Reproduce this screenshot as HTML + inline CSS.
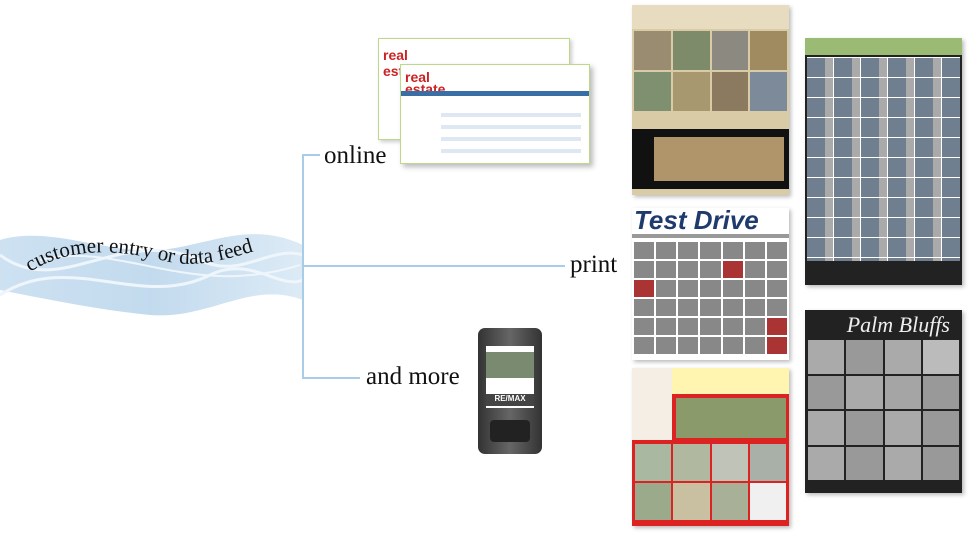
<!DOCTYPE html>
<html><head><meta charset="utf-8"><style>
body{margin:0;width:974px;height:538px;background:#fff;position:relative;overflow:hidden;font-family:"Liberation Serif",serif}
.a{position:absolute}
.t{position:absolute;font-size:25px;color:#111;line-height:1}
.grid{display:grid;gap:2px}
.grid div{background:#888}
</style></head><body>
<svg class="a" style="left:0;top:0" width="974" height="538">
<defs><linearGradient id="w" x1="0" x2="1"><stop offset="0" stop-color="#c4dcef"/><stop offset="0.5" stop-color="#b8d4eb"/><stop offset="1" stop-color="#d6e7f4"/></linearGradient></defs>
<path d="M0 240 C50 225 110 255 160 250 C210 245 250 220 303 245 L303 300 C250 280 210 320 150 315 C100 310 50 300 0 290Z" fill="url(#w)" opacity="0.85"/>
<path d="M0 255 C60 300 120 225 200 260 C240 280 270 245 303 255" stroke="#eef5fb" stroke-width="3" fill="none"/>
<path d="M0 295 C70 250 140 310 210 275 C250 255 280 290 303 280" stroke="#eef5fb" stroke-width="3" fill="none"/>
<path d="M40 260 C120 240 190 300 300 265" stroke="#eef5fb" stroke-width="2" fill="none"/>
<path id="cv" d="M30 272 C80 240 140 255 170 262 C210 270 250 250 295 240" fill="none"/>
<text font-family="Liberation Serif" font-size="21" fill="#111"><textPath href="#cv">customer entry or data feed</textPath></text>
<path d="M320 155 H303 V378 H360 M303 266 H565" stroke="#a9cde6" stroke-width="2" fill="none"/>
</svg>
<div class="t" style="left:324px;top:143px">online</div>
<div class="t" style="left:570px;top:252px">print</div>
<div class="t" style="left:366px;top:364px">and more</div>

<div class="a" style="left:378px;top:38px;width:190px;height:100px;background:#fff;border:1px solid #bcd98a;box-shadow:2px 2px 4px #ccc">
 <div style="margin:8px 0 0 4px;font:bold 14px 'Liberation Sans',sans-serif;color:#c22">real<br>estate</div></div>
<div class="a" style="left:400px;top:64px;width:188px;height:98px;background:#fff;border:1px solid #bcd98a;box-shadow:3px 3px 5px #bbb">
 <div style="margin:6px 0 0 4px;font:bold 14px/12px 'Liberation Sans',sans-serif;color:#c22">real<br>estate</div>
 <div style="position:absolute;left:0;top:26px;width:100%;height:5px;background:#3a6fa5"></div>
 <div style="position:absolute;left:40px;top:40px;width:140px;height:56px;background:repeating-linear-gradient(#fff 0 8px,#dde8f3 8px 12px)"></div>
</div>

<div class="a" style="left:478px;top:328px;width:64px;height:126px;background:linear-gradient(90deg,#333,#666,#333);border-radius:7px"></div>
<div class="a" style="left:486px;top:346px;width:48px;height:62px;background:#fff"><div style="height:26px;background:#7a8a70;margin-top:6px"></div><div style="height:12px;background:#444;margin-top:16px;color:#fff;font:bold 8px sans-serif;text-align:center">RE/MAX</div></div>
<div class="a" style="left:490px;top:420px;width:40px;height:22px;background:#222;border-radius:4px"></div>

<div class="a" style="left:632px;top:5px;width:157px;height:190px;background:#d9cba6;box-shadow:2px 2px 4px #bbb">
 <div style="height:24px;background:#e8dcc0"></div>
 <div class="grid" style="grid-template-columns:repeat(4,1fr);padding:2px;height:80px;"><div style="background:#9a8c70"></div><div style="background:#7d8b6a"></div><div style="background:#8c8a80"></div><div style="background:#a08a60"></div><div style="background:#7f9070"></div><div style="background:#a89870"></div><div style="background:#8c7a60"></div><div style="background:#7d8a9a"></div></div>
 <div style="position:absolute;left:0;top:124px;width:157px;height:60px;background:#111"><div style="margin:8px 0 0 22px;width:130px;height:44px;background:#b0956a"></div></div>
</div>
<div class="a" style="left:805px;top:38px;width:157px;height:247px;background:#222;box-shadow:2px 2px 4px #bbb">
 <div style="height:17px;background:#9bbb74"></div>
 <div style="margin:2px;height:204px;background:repeating-linear-gradient(#fff 0 1px,transparent 1px 20px),repeating-linear-gradient(90deg,#6f7f8f 0 18px,#aaa 18px 26px,#fff 26px 27px)"></div>
</div>
<div class="a" style="left:632px;top:208px;width:157px;height:152px;background:#fff;box-shadow:2px 2px 4px #bbb">
 <div style="font:italic 900 26px/24px 'Liberation Sans',sans-serif;color:#1f3b6e;padding-left:2px">Test Drive</div>
 <div style="height:4px;background:#999;margin:2px 0"></div>
 <div class="grid" style="grid-template-columns:repeat(7,1fr);height:112px;padding:2px"><div></div><div></div><div></div><div></div><div></div><div></div><div></div><div></div><div></div><div></div><div></div><div style="background:#a33"></div><div></div><div></div><div style="background:#a33"></div><div></div><div></div><div></div><div></div><div></div><div></div><div></div><div></div><div></div><div></div><div></div><div></div><div></div><div></div><div></div><div></div><div></div><div></div><div></div><div style="background:#a33"></div><div></div><div></div><div></div><div></div><div></div><div></div><div style="background:#a33"></div></div>
</div>
<div class="a" style="left:632px;top:368px;width:157px;height:158px;background:#d22;box-shadow:2px 2px 4px #bbb">
 <div style="position:absolute;left:0;top:0;width:40px;height:72px;background:#f4eee4"></div>
 <div style="position:absolute;left:40px;top:0;width:117px;height:26px;background:#fff4b0"></div>
 <div style="position:absolute;left:44px;top:30px;width:110px;height:40px;background:#8a9a6a"></div>
 <div class="grid" style="position:absolute;left:3px;top:76px;width:151px;height:76px;grid-template-columns:repeat(4,1fr)"><div style="background:#a9b8a0"></div><div style="background:#b0b8a0"></div><div style="background:#c0c4b8"></div><div style="background:#a8b0a8"></div><div style="background:#9aaa8a"></div><div style="background:#c8c0a0"></div><div style="background:#a8b098"></div><div style="background:#f0f0f0"></div></div>
</div>
<div class="a" style="left:805px;top:310px;width:157px;height:183px;background:#222;box-shadow:2px 2px 4px #bbb">
 <div style="position:absolute;right:12px;top:2px;font:italic 22px 'Liberation Serif',serif;color:#eee">Palm Bluffs</div>
 <div class="grid" style="position:absolute;left:3px;top:30px;width:151px;height:140px;grid-template-columns:repeat(4,1fr)"><div style="background:#aaa"></div><div style="background:#999"></div><div style="background:#aaa"></div><div style="background:#bbb"></div><div style="background:#999"></div><div style="background:#aaa"></div><div style="background:#a5a5a5"></div><div style="background:#999"></div><div style="background:#aaa"></div><div style="background:#999"></div><div style="background:#aaa"></div><div style="background:#999"></div><div style="background:#aaa"></div><div style="background:#999"></div><div style="background:#aaa"></div><div style="background:#999"></div></div>
</div>
</body></html>
